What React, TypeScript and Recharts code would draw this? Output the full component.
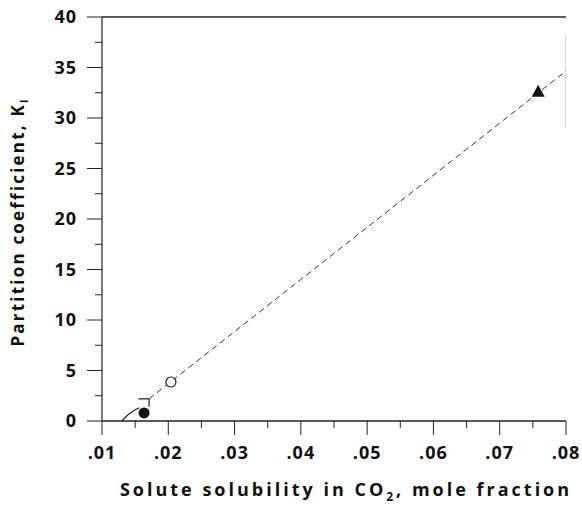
import React from 'react';
import {
  ComposedChart,
  Line,
  Scatter,
  XAxis,
  YAxis,
  ReferenceLine,
} from 'recharts';

// tick positions
const xTicks = [0.01, 0.015, 0.02, 0.025, 0.03, 0.035, 0.04, 0.045, 0.05, 0.055, 0.06, 0.065, 0.07, 0.075, 0.08];
const xMajor = [0.01, 0.02, 0.03, 0.04, 0.05, 0.06, 0.07, 0.08];
const yTicks = [0, 2.5, 5, 7.5, 10, 12.5, 15, 17.5, 20, 22.5, 25, 27.5, 30, 32.5, 35, 37.5, 40];
const yMajor = [0, 5, 10, 15, 20, 25, 30, 35, 40];

// measured points
const filledCircle = [{ x: 0.01635, y: 0.8 }];
const openCircle = [{ x: 0.0204, y: 3.86 }];
const filledTriangle = [{ x: 0.0758, y: 32.6 }];

// correlation lines
const dashedFit = [
  { x: 0.0171, y: 2.2 },
  { x: 0.08, y: 34.65 },
];
const solidCurve = [
  { x: 0.013, y: 0 },
  { x: 0.0138, y: 0.55 },
  { x: 0.0147, y: 1.0 },
  { x: 0.0156, y: 1.3 },
];
const errorCap = [
  { x: 0.0155, y: 2.2 },
  { x: 0.0171, y: 2.2 },
  { x: 0.0171, y: 1.4 },
];
const rightEdge = [
  { x: 0.08, y: 29 },
  { x: 0.08, y: 38.2 },
];

const font = '"Open Sans", "DejaVu Sans", sans-serif';

const fmtX = (v: number) => v.toFixed(2).replace(/^0/, '');

function XTick(props: any) {
  const { x, y, payload } = props;
  const major = xMajor.some((m) => Math.abs(m - payload.value) < 1e-6);
  return (
    <g>
      <line x1={x} y1={y} x2={x} y2={y + (major ? 14 : 7)} stroke="#222" strokeWidth={1} />
      {major && (
        <text x={x} y={y + 38} textAnchor="middle" fontFamily={font} fontWeight={700} fontSize={18} letterSpacing={1} fill="#111">
          {fmtX(payload.value)}
        </text>
      )}
    </g>
  );
}

function YTick(props: any) {
  const { x, y, payload } = props;
  const major = yMajor.includes(payload.value);
  return (
    <g>
      <line x1={x} y1={y} x2={x - (major ? 15 : 7)} y2={y} stroke="#222" strokeWidth={1} />
      {major && (
        <text x={x - 25} y={y + 6} textAnchor="end" fontFamily={font} fontWeight={700} fontSize={18} letterSpacing={1} fill="#111">
          {payload.value}
        </text>
      )}
    </g>
  );
}

export default function App() {
  return (
    <div style={{ position: 'absolute', left: 0, top: 0, width: 582, height: 513, background: '#fff' }}>
      <ComposedChart
        width={582}
        height={513}
        margin={{ top: 17, right: 16, bottom: 0, left: 42 }}
      >
        <XAxis
          type="number"
          dataKey="x"
          domain={[0.01, 0.08]}
          ticks={xTicks}
          interval={0}
          tickSize={0}
          tickMargin={0}
          tickLine={false}
          tick={<XTick />}
          axisLine={{ stroke: '#222', strokeWidth: 1.5 }}
          allowDataOverflow
          height={92}
        />
        <YAxis
          type="number"
          dataKey="y"
          domain={[0, 40]}
          ticks={yTicks}
          interval={0}
          tickSize={0}
          tickMargin={0}
          tickLine={false}
          tick={<YTick />}
          axisLine={{ stroke: '#222', strokeWidth: 1.2 }}
          width={60}
        />
        <ReferenceLine y={40} stroke="#222" strokeWidth={1.5} />
        <Line
          data={rightEdge}
          dataKey="y"
          stroke="#999"
          strokeWidth={1}
          strokeDasharray="3 1"
          dot={false}
          isAnimationActive={false}
        />
        <Line
          data={dashedFit}
          dataKey="y"
          type="linear"
          stroke="#333"
          strokeWidth={1}
          strokeDasharray="6 4"
          dot={false}
          isAnimationActive={false}
        />
        <Line
          data={solidCurve}
          dataKey="y"
          type="monotone"
          stroke="#222"
          strokeWidth={1.2}
          dot={false}
          isAnimationActive={false}
        />
        <Line
          data={errorCap}
          dataKey="y"
          type="linear"
          stroke="#222"
          strokeWidth={1.2}
          dot={false}
          isAnimationActive={false}
        />
        <Scatter
          data={filledCircle}
          dataKey="y"
          isAnimationActive={false}
          shape={(p: any) => <circle cx={p.cx} cy={p.cy} r={5.5} fill="#111" />}
        />
        <Scatter
          data={openCircle}
          dataKey="y"
          isAnimationActive={false}
          shape={(p: any) => <circle cx={p.cx} cy={p.cy} r={5} fill="#fff" stroke="#222" strokeWidth={1.2} />}
        />
        <Scatter
          data={filledTriangle}
          dataKey="y"
          isAnimationActive={false}
          shape={(p: any) => (
            <path d={`M${p.cx},${p.cy - 7} L${p.cx + 6.5},${p.cy + 5} L${p.cx - 6.5},${p.cy + 5} Z`} fill="#111" />
          )}
        />
        <text
          x={346}
          y={496}
          textAnchor="middle"
          fontFamily={font}
          fontWeight={700}
          fontSize={18}
          letterSpacing={3}
          fill="#111"
        >
          Solute solubility in CO
          <tspan fontSize={12} dy={5}>2</tspan>
          <tspan dy={-5}>, mole fraction</tspan>
        </text>
        <text
          transform="translate(24,222) rotate(-90)"
          textAnchor="middle"
          fontFamily={font}
          fontWeight={700}
          fontSize={17}
          letterSpacing={2.2}
          fill="#111"
        >
          Partition coefficient, K
          <tspan fontSize={11} dy={4}>l</tspan>
        </text>
      </ComposedChart>
    </div>
  );
}
